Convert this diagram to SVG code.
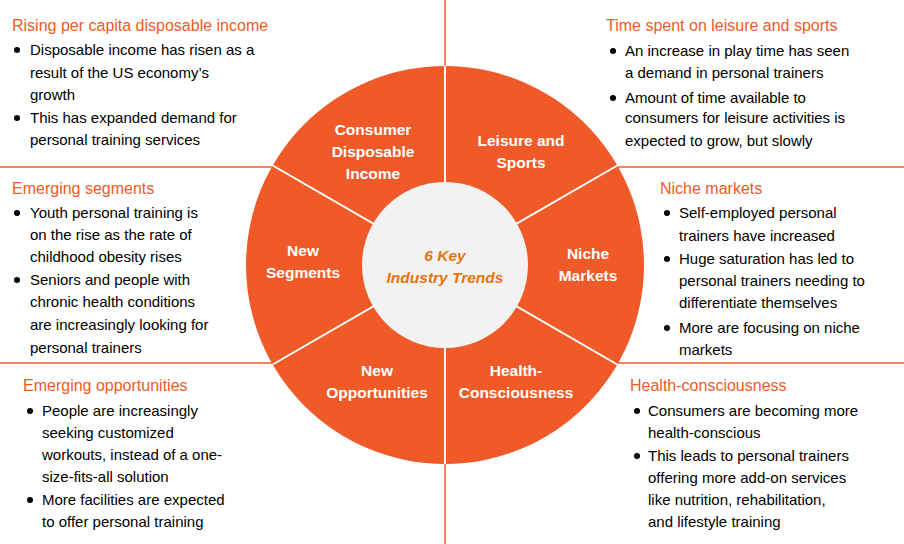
<svg xmlns="http://www.w3.org/2000/svg" width="904" height="544" viewBox="0 0 904 544">
<style>
.h{font-family:"Liberation Sans",Arial,sans-serif;font-size:16px;fill:#F05A28}
.b{font-family:"Liberation Sans",Arial,sans-serif;font-size:15px;fill:#000}
.s{font-family:"Liberation Sans",Arial,sans-serif;font-size:15.5px;font-weight:bold;fill:#fff;text-anchor:middle}
.c{font-family:"Liberation Sans",Arial,sans-serif;font-size:15.5px;font-weight:bold;font-style:italic;fill:#E8740F;text-anchor:middle}
.ln{stroke:#F05A28;stroke-width:1.5}
.sp{stroke:#fff;stroke-width:2}
</style>
<rect width="904" height="544" fill="#fff"/>
<g id="connectors">
<line class="ln" x1="445" y1="0" x2="445" y2="70"/>
<line class="ln" x1="445" y1="460" x2="445" y2="544"/>
<line class="ln" x1="0" y1="167" x2="275" y2="167"/>
<line class="ln" x1="615" y1="167" x2="904" y2="167"/>
<line class="ln" x1="0" y1="363" x2="275" y2="363"/>
<line class="ln" x1="615" y1="363" x2="904" y2="363"/>
</g>
<g id="wheel">
<circle cx="445" cy="265" r="199" fill="#F05A28"/>
<line class="sp" x1="445" y1="66" x2="445" y2="464"/>
<line class="sp" x1="272.7" y1="165.5" x2="617.3" y2="364.5"/>
<line class="sp" x1="272.7" y1="364.5" x2="617.3" y2="165.5"/>
</g>
<g id="center"><circle cx="445" cy="265" r="83" fill="#F2F2F2"/>
<text class="c" x="445" y="261">6 Key</text><text class="c" x="445" y="283">Industry Trends</text></g>
<g id="s1"><text class="s" x="373" y="135">Consumer</text><text class="s" x="373" y="157">Disposable</text><text class="s" x="373" y="179">Income</text></g>
<g id="s2"><text class="s" x="521" y="146">Leisure and</text><text class="s" x="521" y="168">Sports</text></g>
<g id="s3"><text class="s" x="588" y="259">Niche</text><text class="s" x="588" y="281">Markets</text></g>
<g id="s4"><text class="s" x="516" y="376">Health-</text><text class="s" x="516" y="398">Consciousness</text></g>
<g id="s5"><text class="s" x="377" y="376">New</text><text class="s" x="377" y="398">Opportunities</text></g>
<g id="s6"><text class="s" x="303" y="256">New</text><text class="s" x="303" y="278">Segments</text></g>
<g id="t1"><text class="h" x="12" y="31">Rising per capita disposable income</text>
<text class="b" x="30" y="55">Disposable income has risen as a</text><text class="b" x="30" y="78">result of the US economy’s</text><text class="b" x="30" y="100">growth</text><text class="b" x="30" y="123">This has expanded demand for</text><text class="b" x="30" y="145">personal training services</text>
<circle cx="17" cy="50" r="3"/><circle cx="17" cy="118" r="3"/></g>
<g id="t2"><text class="h" x="12" y="194">Emerging segments</text>
<text class="b" x="30" y="218">Youth personal training is</text><text class="b" x="30" y="240">on the rise as the rate of</text><text class="b" x="30" y="262">childhood obesity rises</text><text class="b" x="30" y="285">Seniors and people with</text><text class="b" x="30" y="307">chronic health conditions</text><text class="b" x="30" y="330">are increasingly looking for</text><text class="b" x="30" y="353">personal trainers</text>
<circle cx="17" cy="213" r="3"/><circle cx="17" cy="280" r="3"/></g>
<g id="t3"><text class="h" x="23" y="391">Emerging opportunities</text>
<text class="b" x="42" y="416">People are increasingly</text><text class="b" x="42" y="438">seeking customized</text><text class="b" x="42" y="460">workouts, instead of a one-</text><text class="b" x="42" y="482">size-fits-all solution</text><text class="b" x="42" y="505">More facilities are expected</text><text class="b" x="42" y="527">to offer personal training</text>
<circle cx="30" cy="411" r="3"/><circle cx="30" cy="500" r="3"/></g>
<g id="t4"><text class="h" x="606" y="31">Time spent on leisure and sports</text>
<text class="b" x="625" y="56">An increase in play time has seen</text><text class="b" x="625" y="78">a demand in personal trainers</text><text class="b" x="625" y="103">Amount of time available to</text><text class="b" x="625" y="123">consumers for leisure activities is</text><text class="b" x="625" y="146">expected to grow, but slowly</text>
<circle cx="613" cy="51" r="3"/><circle cx="613" cy="98" r="3"/></g>
<g id="t5"><text class="h" x="660" y="194">Niche markets</text>
<text class="b" x="679" y="218">Self-employed personal</text><text class="b" x="679" y="241">trainers have increased</text><text class="b" x="679" y="264">Huge saturation has led to</text><text class="b" x="679" y="286">personal trainers needing to</text><text class="b" x="679" y="308">differentiate themselves</text><text class="b" x="679" y="333">More are focusing on niche</text><text class="b" x="679" y="355">markets</text>
<circle cx="667" cy="213" r="3"/><circle cx="667" cy="259" r="3"/><circle cx="667" cy="328" r="3"/></g>
<g id="t6"><text class="h" x="630" y="391">Health-consciousness</text>
<text class="b" x="648" y="416">Consumers are becoming more</text><text class="b" x="648" y="438">health-conscious</text><text class="b" x="648" y="461">This leads to personal trainers</text><text class="b" x="648" y="483">offering more add-on services</text><text class="b" x="648" y="505">like nutrition, rehabilitation,</text><text class="b" x="648" y="527">and lifestyle training</text>
<circle cx="637" cy="411" r="3"/><circle cx="637" cy="456" r="3"/></g>
</svg>
